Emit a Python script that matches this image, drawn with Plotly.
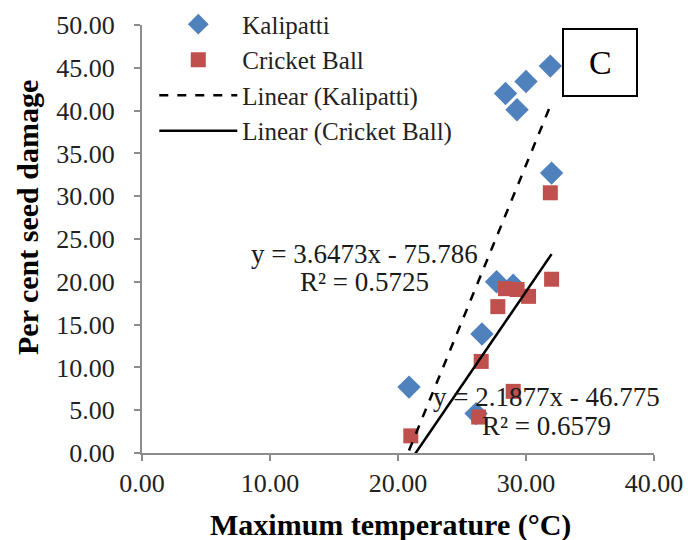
import plotly.graph_objects as go

# Data
kal_x = [20.86, 26.56, 27.70, 29.00, 26.10, 28.40, 29.30, 30.00, 31.90, 32.00]
kal_y = [7.70, 13.90, 20.00, 19.60, 4.60, 42.00, 40.10, 43.40, 45.20, 32.70]
cb_x = [21.00, 26.50, 26.30, 29.00, 27.80, 28.40, 29.30, 30.20, 32.00, 31.90]
cb_y = [2.00, 10.70, 4.20, 7.20, 17.10, 19.20, 19.10, 18.30, 20.30, 30.40]

kal_fit = (3.6473, -75.786)
cb_fit = (2.1877, -46.775)

x_ticks = [0, 10, 20, 30, 40]
y_ticks = [0, 5, 10, 15, 20, 25, 30, 35, 40, 45, 50]

FONT = "Liberation Serif, Times New Roman, serif"

# plot-area geometry in pixels (for placing layout text only)
L, R, T, B = 142, 654, 25, 453
PW, PH = R - L, B - T


def px_to_paper(px, py):
    return (px - L) / PW, (B - py) / PH


def fit_line(xs, coef):
    lo, hi = min(xs), max(xs)
    return [lo, hi], [coef[0] * lo + coef[1], coef[0] * hi + coef[1]]


fig = go.Figure()
fig.add_trace(go.Scatter(
    x=kal_x, y=kal_y, mode="markers", name="Kalipatti",
    marker=dict(symbol="diamond", size=18, color="#4F81BD"),
))
fig.add_trace(go.Scatter(
    x=cb_x, y=cb_y, mode="markers", name="Cricket Ball",
    marker=dict(symbol="square", size=15, color="#C0504D"),
))
kx, ky = fit_line(kal_x, kal_fit)
fig.add_trace(go.Scatter(
    x=kx, y=ky, mode="lines", name="Linear (Kalipatti)",
    line=dict(color="black", width=2.5, dash="dash"),
))
cx, cy = fit_line(cb_x, cb_fit)
fig.add_trace(go.Scatter(
    x=cx, y=cy, mode="lines", name="Linear (Cricket Ball)",
    line=dict(color="black", width=2.5),
))

ann_font = dict(family=FONT, size=27, color="#1a1a1a")
labels = [
    (17.40, 23.3, "y = 3.6473x - 75.786"),
    (17.40, 20.0, "R² = 0.5725"),
    (31.60, 6.5, "y = 2.1877x - 46.775"),
    (31.60, 3.2, "R² = 0.6579"),
]
for lx, ly, txt in labels:
    fig.add_annotation(x=lx, y=ly, xref="x", yref="y", showarrow=False,
                       xanchor="center", yanchor="middle",
                       text=txt, font=ann_font)

# Box "C"
bx0, by0 = px_to_paper(563, 96)
bx1, by1 = px_to_paper(637, 29)
fig.add_shape(type="rect", xref="paper", yref="paper",
              x0=bx0, x1=bx1, y0=by0, y1=by1,
              line=dict(color="black", width=2), fillcolor="white")
cxp, cyp = px_to_paper(600, 63)
fig.add_annotation(xref="paper", yref="paper", x=cxp, y=cyp,
                   xanchor="center", yanchor="middle",
                   text="C", showarrow=False,
                   font=dict(family=FONT, size=34, color="black"))

# Axis titles
xtx, xty = px_to_paper(390.5, 525)
fig.add_annotation(xref="paper", yref="paper", x=xtx, y=xty,
                   xanchor="center", yanchor="middle", showarrow=False,
                   text="<b>Maximum temperature (°C)</b>",
                   font=dict(family=FONT, size=30, color="black"))
ytx, yty = px_to_paper(27.5, 217.5)
fig.add_annotation(xref="paper", yref="paper", x=ytx, y=yty,
                   xanchor="center", yanchor="middle", showarrow=False,
                   textangle=-90,
                   text="<b>Per cent seed damage</b>",
                   font=dict(family=FONT, size=30, color="black"))

axis_common = dict(
    showline=True, linecolor="#8c8c8c", linewidth=2,
    ticks="outside", tickcolor="#8c8c8c", ticklen=6, tickwidth=2,
    showgrid=False, zeroline=False,
    tickfont=dict(family=FONT, size=26, color="#222"),
)

fig.update_xaxes(range=[0, 40], tickvals=x_ticks,
                 ticktext=[f"{v:.2f}" for v in x_ticks],
                 **axis_common)
fig.update_yaxes(range=[0, 50], tickvals=y_ticks,
                 ticktext=[f"{v:.2f}" for v in y_ticks],
                 ticklabelstandoff=14,
                 **axis_common)

fig.update_layout(
    width=688, height=540,
    margin=dict(l=L, r=688 - R, t=T, b=540 - B, autoexpand=False),
    plot_bgcolor="white", paper_bgcolor="white",
    showlegend=True,
    legend=dict(x=0.024, y=1.055, xanchor="left", yanchor="top",
                bgcolor="rgba(0,0,0,0)", itemwidth=78,
                font=dict(family=FONT, size=25, color="#222"),
                tracegroupgap=0),
)

fig.write_html("out.html")
